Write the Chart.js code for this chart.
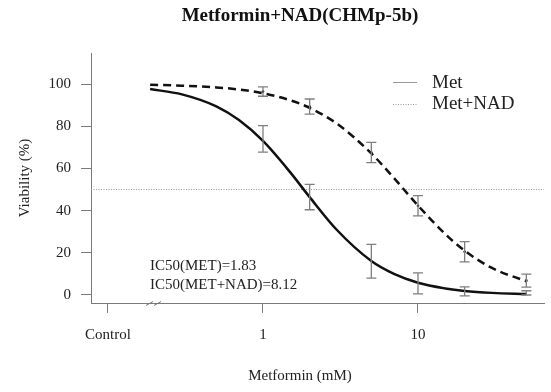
<!DOCTYPE html>
<html>
<head>
<meta charset="utf-8">
<script src="https://cdn.jsdelivr.net/npm/chart.js@4"></script>
<style>
html,body{margin:0;padding:0;background:#fff;}
canvas{display:block;}
</style>
</head>
<body>
<canvas id="c" width="551" height="392"></canvas>
<script>
// ---- data ----
const chartTitle = 'Metformin+NAD(CHMp-5b)';
const xTitle = 'Metformin (mM)';
const yTitle = 'Viability (%)';
const xTickValues = [0.1, 1, 10];
const xTickLabels = ['Control', '1', '10'];
const yTickValues = [0, 20, 40, 60, 80, 100];

const doses = [1, 2, 5, 10, 20, 50];
const metMean = [74, 46.4, 16, 5.5, 1.7, 1];
const metErr = [6.3, 6, 8, 5, 2.1, 1];
const nadMean = [96.4, 89.3, 67.5, 42.3, 20.5, 6.8];
const nadErr = [2.2, 3.6, 4.8, 4.8, 4.8, 3.1];

const curveX = [0.187, 0.3, 0.5, 0.7, 1, 1.5, 2, 3, 5, 7, 10, 15, 20, 30, 50];
const metCurve = [97.6, 95.1, 89.4, 82.9, 73, 58.1, 46.4, 30.8, 16.1, 10, 5.8, 3.1, 1.9, 1.0, 0.45];
const nadCurve = [99.7, 99.2, 98.4, 97.4, 95.6, 92.3, 88.7, 81.2, 67.1, 55.4, 42.4, 28.9, 21.0, 12.8, 6.5];

const ic50Text = ['IC50(MET)=1.83', 'IC50(MET+NAD)=8.12'];
const legendLabels = ['Met', 'Met+NAD'];
const refLineY = 50;

const xMin = 0.0777, xMax = 65;
const yMin = -3.8, yMax = 114.7;

const SERIF = "'Liberation Serif', 'Times New Roman', serif";
const TXT = '#222';
const AX = '#7a7a7a';

const pts = (xs, ys) => xs.map((x, i) => ({x: x, y: ys[i]}));

const errorBars = {
  id: 'errorBars',
  afterDatasetsDraw(chart) {
    const {ctx, scales: {x, y}} = chart;
    ctx.save();
    ctx.strokeStyle = '#7f7f7f';
    ctx.lineWidth = 1.3;
    const draw = (means, errs) => {
      doses.forEach((d, i) => {
        const px = x.getPixelForValue(d);
        const top = y.getPixelForValue(means[i] + errs[i]);
        const bot = y.getPixelForValue(means[i] - errs[i]);
        ctx.beginPath();
        ctx.moveTo(px, top); ctx.lineTo(px, bot);
        ctx.moveTo(px - 5, top); ctx.lineTo(px + 5, top);
        ctx.moveTo(px - 5, bot); ctx.lineTo(px + 5, bot);
        ctx.stroke();
      });
    };
    draw(metMean, metErr);
    draw(nadMean, nadErr);
    ctx.restore();
  }
};

const decorations = {
  id: 'decorations',
  afterDraw(chart) {
    const {ctx, chartArea} = chart;
    ctx.save();
    // title
    ctx.fillStyle = '#111';
    ctx.font = 'bold 19px ' + SERIF;
    ctx.textAlign = 'center';
    ctx.textBaseline = 'middle';
    ctx.fillText(chartTitle, 300, 16);
    // x title
    ctx.font = '15px ' + SERIF;
    ctx.fillStyle = TXT;
    ctx.fillText(xTitle, 300, 376);
    // IC50 annotations
    ctx.textAlign = 'left';
    ctx.font = '15px ' + SERIF;
    ctx.fillText(ic50Text[0], 150, 266);
    ctx.fillText(ic50Text[1], 150, 285);
    // legend
    ctx.font = '19px ' + SERIF;
    ctx.strokeStyle = '#999';
    ctx.lineWidth = 1;
    ctx.beginPath(); ctx.moveTo(393, 82.5); ctx.lineTo(417, 82.5); ctx.stroke();
    ctx.setLineDash([1, 1.5]);
    ctx.beginPath(); ctx.moveTo(393, 104.5); ctx.lineTo(417, 104.5); ctx.stroke();
    ctx.setLineDash([]);
    ctx.fillText(legendLabels[0], 432, 83);
    ctx.fillText(legendLabels[1], 432, 104);
    // axis break marks
    const by = chartArea.bottom;
    ctx.strokeStyle = '#777';
    ctx.lineWidth = 1;
    ctx.beginPath();
    ctx.moveTo(146, by + 2.5); ctx.lineTo(153, by - 1.5);
    ctx.moveTo(154, by + 2.5); ctx.lineTo(161, by - 1.5);
    ctx.stroke();
    ctx.restore();
  }
};

new Chart(document.getElementById('c'), {
  type: 'line',
  data: {
    datasets: [
      {
        label: 'Met',
        data: pts(curveX, metCurve),
        borderColor: '#111',
        borderWidth: 2.5,
        pointRadius: 0,
        tension: 0.4,
        cubicInterpolationMode: 'monotone',
        fill: false
      },
      {
        label: 'Met+NAD',
        data: pts(curveX, nadCurve),
        borderColor: '#111',
        borderWidth: 2.5,
        borderDash: [8, 5],
        pointRadius: 0,
        tension: 0.4,
        cubicInterpolationMode: 'monotone',
        fill: false
      },
      {
        label: 'Met+NAD points',
        data: pts(doses, nadMean),
        showLine: false,
        pointRadius: 1.3,
        pointBackgroundColor: '#111',
        pointBorderWidth: 0
      },
      {
        label: 'IC50 line',
        data: [{x: xMin, y: refLineY}, {x: xMax, y: refLineY}],
        borderColor: '#999',
        borderWidth: 1,
        borderDash: [1, 1.5],
        pointRadius: 0
      }
    ]
  },
  options: {
    responsive: false,
    devicePixelRatio: 1,
    animation: false,
    layout: {padding: {left: 0, right: 7, top: 53, bottom: 0}},
    plugins: {legend: {display: false}, tooltip: {enabled: false}, title: {display: false}},
    scales: {
      x: {
        type: 'logarithmic',
        min: xMin,
        max: xMax,
        afterBuildTicks: (s) => { s.ticks = xTickValues.map(v => ({value: v})); },
        afterFit: (s) => { s.height = 89; },
        ticks: {
          autoSkip: false,
          maxRotation: 0,
          padding: 13,
          color: TXT,
          font: {family: SERIF, size: 15},
          callback: (v) => { const i = xTickValues.indexOf(v); return i >= 0 ? xTickLabels[i] : ''; }
        },
        grid: {drawOnChartArea: false, drawTicks: true, tickLength: 10, color: AX},
        border: {color: AX, width: 1}
      },
      y: {
        type: 'linear',
        min: yMin,
        max: yMax,
        afterBuildTicks: (s) => { s.ticks = yTickValues.map(v => ({value: v})); },
        afterFit: (s) => { s.width = 91; },
        ticks: {
          padding: 10,
          color: TXT,
          font: {family: SERIF, size: 15}
        },
        title: {
          display: true,
          text: yTitle,
          color: TXT,
          font: {family: SERIF, size: 15},
          padding: {top: 16, bottom: 0}
        },
        grid: {drawOnChartArea: false, drawTicks: true, tickLength: 10, color: AX},
        border: {color: AX, width: 1}
      }
    }
  },
  plugins: [errorBars, decorations]
});
</script>
</body>
</html>
